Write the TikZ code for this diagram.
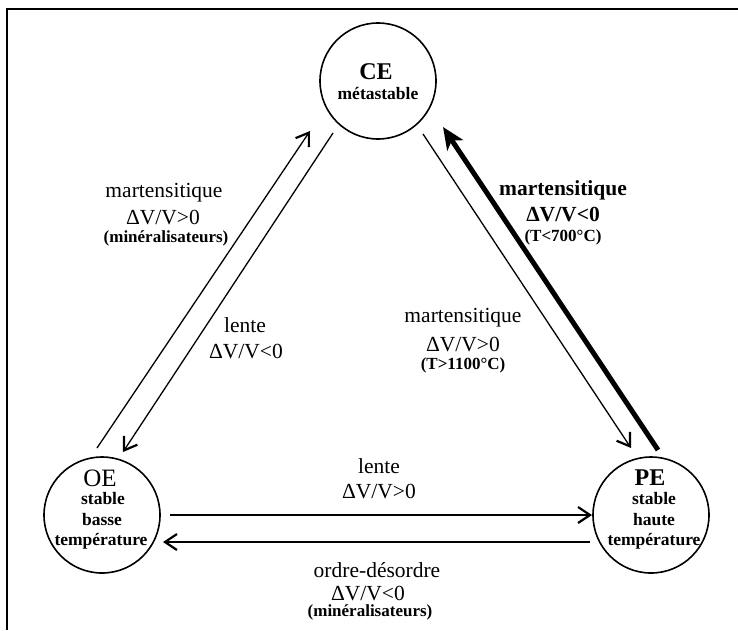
\documentclass[tikz,border=0pt]{standalone}
\usepackage{fontspec}
\setmainfont{Liberation Serif}
\usetikzlibrary{arrows.meta,calc}
\tikzset{
  state/.style={draw,circle,line width=1.6pt,minimum size=116pt,inner sep=0pt},
  big/.style={font=\fontsize{25}{27}\selectfont,inner sep=0pt},
  bigb/.style={font=\fontsize{24}{26}\selectfont\bfseries,inner sep=0pt},
  sub/.style={font=\fontsize{17.5}{19}\selectfont\bfseries,inner sep=0pt},
  lab/.style={font=\fontsize{21.5}{23}\selectfont,inner sep=0pt},
  labb/.style={font=\fontsize{21.5}{23}\selectfont\bfseries,inner sep=0pt},
  small/.style={font=\fontsize{17}{19}\selectfont\bfseries,inner sep=0pt},
  thinarrow/.style={line width=1.3pt,-{Straight Barb[length=12pt,width=16pt,line width=2.2pt]}},
  thickarrow/.style={line width=5pt,-{Stealth[length=22pt,width=19pt,inset=6pt]}},
  frame/.style={line width=2pt}
}
\begin{document}
\begin{tikzpicture}[x=1pt,y=-1pt]
\useasboundingbox (0,0) rectangle (738,630);
\fill[white] (0,0) rectangle (738,630);
% frame
\coordinate (f1) at (7,630);
\coordinate (f2) at (7,9);
\coordinate (f3) at (738,9);
\draw[frame] (f1) -- (f2) -- (f3);
% states
\node[state] (CE) at (378,81) {};
\node[state] (OE) at (102,515) {};
\node[state] (PE) at (651,515) {};
\node[bigb] (CEt) at (376,72) {CE};
\node[sub] (CEs) at (378,93) {métastable};
\node[big] (OEt) at (100,478) {OE};
\node[sub] (OEs1) at (103,499) {stable};
\node[sub] (OEs2) at (102,520) {basse};
\node[sub] (OEs3) at (101,541) {température};
\node[bigb] (PEt) at (650,478) {PE};
\node[sub] (PEs1) at (654,499) {stable};
\node[sub] (PEs2) at (654,520) {haute};
\node[sub] (PEs3) at (654,541) {température};
% connectors
\draw[thinarrow] ($(OE)+(-5,-67)$) -- ($(CE)+(-68,50)$);
\draw[thinarrow] ($(CE)+(-45,52)$) -- ($(OE)+(21,-63)$);
\draw[thinarrow] ($(CE)+(45,53)$) -- ($(PE)+(-20,-67)$);
\draw[thickarrow] ($(PE)+(7,-65)$) -- ($(CE)+(65,46)$);
\draw[thinarrow] ($(OE)+(68,0)$) -- ($(PE)+(-59,0)$);
\draw[thinarrow] ($(PE)+(-61,27)$) -- ($(OE)+(61,27)$);
% labels
\node[lab] (l1a) at (164,193) {martensitique};
\node[lab] (l1b) at (163,218) {ΔV/V>0};
\node[small] (l1c) at (166,238) {(minéralisateurs)};
\node[lab] (l2a) at (245,325) {lente};
\node[lab] (l2b) at (246,352) {ΔV/V<0};
\node[labb] (l3a) at (563,190) {martensitique};
\node[labb] (l3b) at (563,215) {ΔV/V<0};
\node[small] (l3c) at (563,237) {(T<700°C)};
\node[lab] (l4a) at (463,318) {martensitique};
\node[lab] (l4b) at (463,345) {ΔV/V>0};
\node[small] (l4c) at (463,365) {(T>1100°C)};
\node[lab] (l5a) at (379,466) {lente};
\node[lab] (l5b) at (379,492) {ΔV/V>0};
\node[lab] (l6a) at (377,570) {ordre-désordre};
\node[lab] (l6b) at (368,593) {ΔV/V<0};
\node[small] (l6c) at (370,612) {(minéralisateurs)};
\end{tikzpicture}
\end{document}
